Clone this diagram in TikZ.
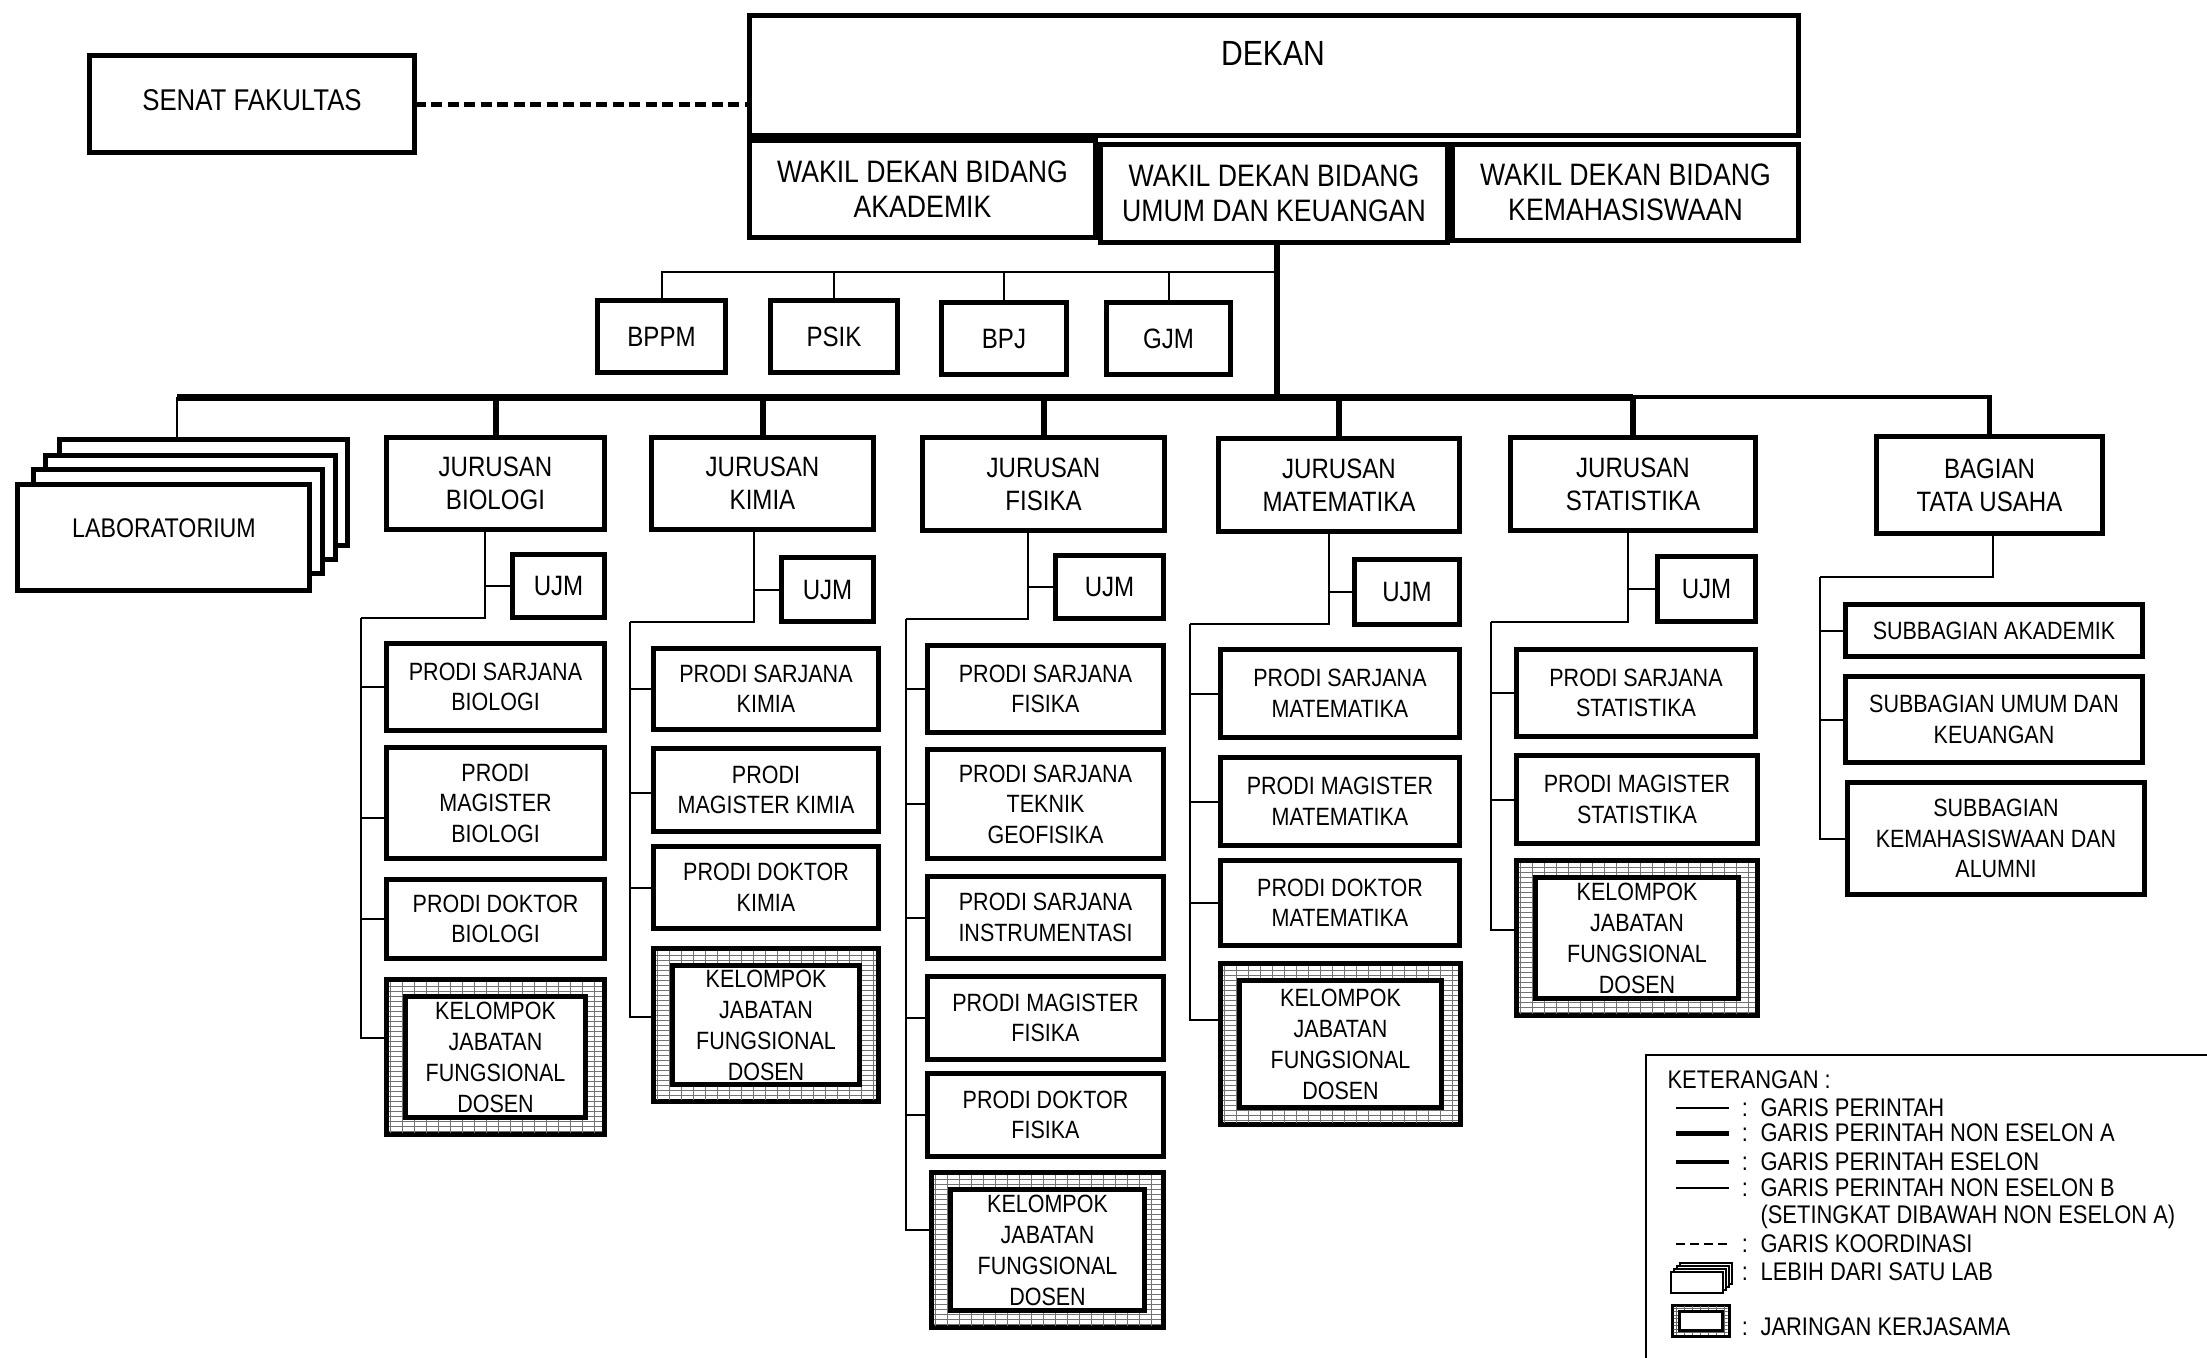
\documentclass[tikz,border=0pt]{standalone}
\usepackage{fontspec}
\setmainfont{Liberation Sans}[FakeStretch=0.86]

% a boxed unit given by its outer corners: style, x1, y1, x2, y2, name; text follows
\newcommand\orgbox[6]{\node[bx,#1,minimum width={#4-#2-5},minimum height={#5-#3-5}] (#6) at ({(#2+#4)/2},{(#3+#5)/2})}

% cooperation-network box (double frame with hatched band)
\newcommand\jaringan[5]{%
  \node[bx,minimum width={#3-#1-5},minimum height={#4-#2-5}] (#5o) at ({(#1+#3)/2},{(#2+#4)/2}) {};
  \begin{scope}
    \clip (#1+5,#2+5) rectangle (#3-5,#4-5);
    \foreach \i in {0,...,22} \draw[gridln] ({#1+6+12*\i},#2) -- ({#1+6+12*\i},#4);
    \foreach \j in {0,...,36} \draw[gridln] (#1,{#2+9+5*\j}) -- (#3,{#2+9+5*\j});
  \end{scope}
  \node[bx,fK,minimum width={#3-#1-43},minimum height={#4-#2-39}] (#5) at ({(#1+#3)/2},{(#2+#4)/2}) {KELOMPOK\\JABATAN\\FUNGSIONAL\\DOSEN};
}

\begin{document}
\begin{tikzpicture}[x=1pt,y=-1pt,
  bx/.style={draw,line width=5pt,fill=white,align=center,inner sep=0pt,outer sep=0pt},
  fD/.style={font=\fontsize{35}{38}\selectfont},
  fW/.style={font=\fontsize{31}{35}\selectfont},
  fS/.style={font=\fontsize{30}{34}\selectfont},
  fJ/.style={font=\fontsize{28}{33}\selectfont},
  fU/.style={font=\fontsize{28}{33}\selectfont},
  fL/.style={font=\fontsize{27}{32}\selectfont},
  fP/.style={font=\fontsize{25}{30.5}\selectfont},
  fK/.style={font=\fontsize{25}{31}\selectfont},
  fG/.style={font=\fontsize{25.5}{27.5}\selectfont},
  gridln/.style={line width=1pt,black!55},
  thinline/.style={line width=2pt},
  trunk/.style={line width=6pt},
  busA/.style={line width=7pt},
  busB/.style={line width=4.5pt},
  eselon/.style={line width=6pt},
  koord/.style={line width=5pt,dash pattern=on 11pt off 5.5pt},
]
\useasboundingbox (0,0) rectangle (2207,1357);

% ---------- leadership ----------
\orgbox{}{87}{53}{417}{155}{senat}{};
\node[fS] (senatT) at (252,100) {SENAT FAKULTAS};
\orgbox{}{747}{13}{1801}{138}{dekan}{};
\node[fD,anchor=base] (dekanT) at (1273,65) {DEKAN};
\orgbox{fW}{747}{138}{1098}{240}{wak}{WAKIL DEKAN BIDANG\\AKADEMIK};
\orgbox{fW}{1098}{142}{1450}{245}{wum}{WAKIL DEKAN BIDANG\\UMUM DAN KEUANGAN};
\orgbox{fW}{1450}{142}{1801}{243}{wkm}{WAKIL DEKAN BIDANG\\KEMAHASISWAAN};

% ---------- supporting bodies ----------
\orgbox{fU}{595}{298}{728}{375}{bppm}{BPPM};
\orgbox{fU}{768}{298}{900}{375}{psik}{PSIK};
\orgbox{fU}{939}{300}{1069}{377}{bpj}{BPJ};
\orgbox{fU}{1104}{300}{1233}{377}{gjm}{GJM};

% ---------- laboratories ----------
\orgbox{}{57}{437}{350}{548}{labD}{};
\orgbox{}{43}{453}{338}{562}{labC}{};
\orgbox{}{31}{467}{325}{576}{labB}{};
\orgbox{}{15}{482}{312}{593}{labA}{};
\node[fL] (labT) at (164,528) {LABORATORIUM};

% ---------- departments ----------
\orgbox{fJ}{384}{435}{607}{532}{jbio}{JURUSAN\\BIOLOGI};
\orgbox{fJ}{649}{435}{876}{532}{jkim}{JURUSAN\\KIMIA};
\orgbox{fJ}{920}{435}{1167}{533}{jfis}{JURUSAN\\FISIKA};
\orgbox{fJ}{1216}{436}{1462}{534}{jmat}{JURUSAN\\MATEMATIKA};
\orgbox{fJ}{1508}{435}{1758}{533}{jsta}{JURUSAN\\STATISTIKA};
\orgbox{fJ}{1874}{434}{2105}{536}{bagian}{BAGIAN\\TATA USAHA};

\orgbox{fU}{510}{552}{607}{620}{ubio}{UJM};
\orgbox{fU}{779}{555}{876}{624}{ukim}{UJM};
\orgbox{fU}{1053}{553}{1166}{621}{ufis}{UJM};
\orgbox{fU}{1352}{557}{1462}{627}{umat}{UJM};
\orgbox{fU}{1655}{554}{1758}{624}{usta}{UJM};

% ---------- study programmes ----------
\orgbox{fP}{384}{641}{607}{733}{psbio}{PRODI SARJANA\\BIOLOGI};
\orgbox{fP}{384}{745}{607}{861}{pmbio}{PRODI\\MAGISTER\\BIOLOGI};
\orgbox{fP}{384}{877}{607}{961}{pdbio}{PRODI DOKTOR\\BIOLOGI};
\jaringan{384}{977}{607}{1137}{kbio}

\orgbox{fP}{651}{646}{881}{732}{pskim}{PRODI SARJANA\\KIMIA};
\orgbox{fP}{651}{746}{881}{834}{pmkim}{PRODI\\MAGISTER KIMIA};
\orgbox{fP}{651}{844}{881}{931}{pdkim}{PRODI DOKTOR\\KIMIA};
\jaringan{651}{946}{881}{1104}{kkim}

\orgbox{fP}{925}{643}{1166}{735}{psfis}{PRODI SARJANA\\FISIKA};
\orgbox{fP}{925}{747}{1166}{861}{pgeo}{PRODI SARJANA\\TEKNIK\\GEOFISIKA};
\orgbox{fP}{925}{874}{1166}{961}{pins}{PRODI SARJANA\\INSTRUMENTASI};
\orgbox{fP}{925}{974}{1166}{1062}{pmfis}{PRODI MAGISTER\\FISIKA};
\orgbox{fP}{925}{1071}{1166}{1159}{pdfis}{PRODI DOKTOR\\FISIKA};
\jaringan{929}{1170}{1166}{1330}{kfis}

\orgbox{fP}{1218}{647}{1462}{740}{psmat}{PRODI SARJANA\\MATEMATIKA};
\orgbox{fP}{1218}{755}{1462}{848}{pmmat}{PRODI MAGISTER\\MATEMATIKA};
\orgbox{fP}{1218}{858}{1462}{948}{pdmat}{PRODI DOKTOR\\MATEMATIKA};
\jaringan{1218}{961}{1463}{1127}{kmat}

\orgbox{fP}{1514}{647}{1758}{739}{pssta}{PRODI SARJANA\\STATISTIKA};
\orgbox{fP}{1514}{753}{1760}{846}{pmsta}{PRODI MAGISTER\\STATISTIKA};
\jaringan{1514}{858}{1760}{1018}{ksta}

\orgbox{fP}{1843}{602}{2145}{659}{sak}{SUBBAGIAN AKADEMIK};
\orgbox{fP}{1843}{674}{2145}{765}{sum}{SUBBAGIAN UMUM DAN\\KEUANGAN};
\orgbox{fP}{1845}{780}{2147}{897}{skm}{SUBBAGIAN\\KEMAHASISWAAN DAN\\ALUMNI};

% ---------- connectors ----------
\draw[koord] (senat.east) -- (senat.east -| dekan.west);

\coordinate (busL) at (177,397);
\coordinate (busM) at (1277,397);
\coordinate (subH) at (1277,272);
\draw[trunk] (wum.south -| busM) -- (busM);
\foreach \b in {bppm,psik,bpj,gjm} \draw[thinline] (\b.north) |- (subH);
\draw[busA] (busL) -- (jsta.north |- busL);
\draw[busB] (jsta.north |- busL) -| (bagian.north);
\draw[thinline] (busL) -- (labD.north -| busL);
\foreach \j in {jbio,jkim,jfis,jmat,jsta} \draw[eselon] (\j.north) -- (\j.north |- busL);

% biologi
\coordinate (bioA) at (485,618); \coordinate (bioB) at (361,618);
\draw[thinline] (jbio.south -| bioA) -- (bioA) -- (bioB);
\draw[thinline] (bioA |- ubio.west) -- (ubio.west);
\draw[thinline] (bioB) |- (psbio.west);
\draw[thinline] (bioB) |- ([yshift=-15pt]pmbio.west);
\draw[thinline] (bioB) |- (pdbio.west);
\draw[thinline] (bioB) |- ([yshift=19pt]kbioo.west);

% kimia
\coordinate (kimA) at (754,622); \coordinate (kimB) at (630,622);
\draw[thinline] (jkim.south -| kimA) -- (kimA) -- (kimB);
\draw[thinline] (kimA |- ukim.west) -- (ukim.west);
\draw[thinline] (kimB) |- (pskim.west);
\draw[thinline] (kimB) |- ([yshift=-3pt]pmkim.west);
\draw[thinline] (kimB) |- (pdkim.west);
\draw[thinline] (kimB) |- ([yshift=8pt]kkimo.west);

% fisika
\coordinate (fisA) at (1028,619); \coordinate (fisB) at (906,619);
\draw[thinline] (jfis.south -| fisA) -- (fisA) -- (fisB);
\draw[thinline] (fisA |- ufis.west) -- (ufis.west);
\foreach \p in {psfis,pgeo,pins,pmfis,pdfis} \draw[thinline] (fisB) |- (\p.west);
\draw[thinline] (fisB) |- ([yshift=20pt]kfiso.west);

% matematika
\coordinate (matA) at (1329,624); \coordinate (matB) at (1190,624);
\draw[thinline] (jmat.south -| matA) -- (matA) -- (matB);
\draw[thinline] (matA |- umat.west) -- (umat.west);
\foreach \p in {psmat,pmmat,pdmat} \draw[thinline] (matB) |- (\p.west);
\draw[thinline] (matB) |- ([yshift=24pt]kmato.west);

% statistika
\coordinate (staA) at (1628,622); \coordinate (staB) at (1491,622);
\draw[thinline] (jsta.south -| staA) -- (staA) -- (staB);
\draw[thinline] (staA |- usta.west) -- (usta.west);
\foreach \p in {pssta,pmsta} \draw[thinline] (staB) |- (\p.west);
\draw[thinline] (staB) |- ([yshift=8pt]kstao.west);

% tata usaha
\coordinate (bagA) at (1993,577); \coordinate (bagB) at (1820,577);
\draw[thinline] (bagian.south -| bagA) -- (bagA) -- (bagB);
\foreach \p in {sak,sum,skm} \draw[thinline] (bagB) |- (\p.west);

% ---------- legend ----------
\draw[line width=2pt] (2212,1055) -- (1646,1055) -- (1646,1362);
\node[fG,anchor=base west] (kt) at (1664,1088) {KETERANGAN :};
\foreach \yy/\txt [count=\k] in {1108/GARIS PERINTAH,1133/GARIS PERINTAH NON ESELON A,1162/GARIS PERINTAH ESELON,1188/GARIS PERINTAH NON ESELON B,1215/(SETINGKAT DIBAWAH NON ESELON A),1244/GARIS KOORDINASI,1272/LEBIH DARI SATU LAB,1327/JARINGAN KERJASAMA}{
  \node[fG,anchor=base west] (lg\k) at (1757,\yy+8.5) {\txt};
}
\foreach \yy in {1108,1133,1162,1188,1244,1272,1327}
  \node[fG,anchor=base] at (1745,\yy+8.5) {:};
\draw[line width=2pt] (1676,1108) -- (1729,1108);
\draw[line width=5pt] (1676,1133) -- (1729,1133);
\draw[line width=4pt] (1676,1162) -- (1729,1162);
\draw[line width=2pt] (1676,1188) -- (1729,1188);
\draw[line width=2pt,dash pattern=on 9pt off 5pt] (1676,1244) -- (1729,1244);
\foreach \d in {9,6,3,0}
  \draw[line width=1.2pt,fill=white] (1671+\d,1272-\d) rectangle (1723+\d,1293-\d);
\begin{scope}
  \draw[line width=3pt,fill=white] (1672,1305) rectangle (1729,1336);
  \clip (1673.5,1306.5) rectangle (1727.5,1334.5);
  \foreach \i in {0,...,6} \draw[line width=0.8pt,black!60] (1676+8*\i,1300) -- (1676+8*\i,1340);
  \foreach \j in {0,...,8} \draw[line width=0.8pt,black!60] (1665,1308+3.5*\j) -- (1735,1308+3.5*\j);
\end{scope}
\draw[line width=3pt,fill=white] (1679,1311) rectangle (1722,1330);
\end{tikzpicture}
\end{document}
